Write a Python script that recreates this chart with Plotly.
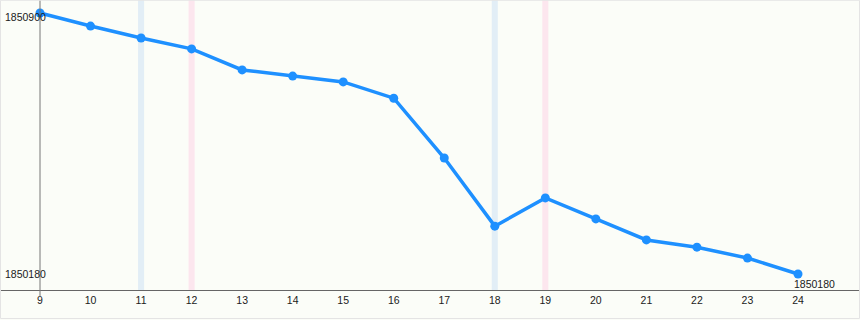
import plotly.graph_objects as go

x_vals = [9, 10, 11, 12, 13, 14, 15, 16, 17, 18, 19, 20, 21, 22, 23, 24]
y_vals = [1850900, 1850864, 1850831, 1850801, 1850743, 1850726, 1850710, 1850665,
          1850500, 1850312, 1850390, 1850332, 1850274, 1850254, 1850224, 1850180]
blue_bands = [11, 18]
pink_bands = [12, 19]
y_max_label = "1850900"
y_min_label = "1850180"

W, H = 860, 320
ML, MR, MT, MB = 0, 0, 0, 30
PH = H - MT - MB

x_range = [8.2084, 25.227]
y_range = [1850135.9, 1850935.9]

FONT = dict(family="Liberation Sans, Arial, sans-serif", size=10.5, color="#1a1a1a")

fig = go.Figure()

shapes = []
for b in blue_bands:
    shapes.append(dict(type="rect", xref="x", yref="paper", x0=b - 0.06, x1=b + 0.06,
                       y0=0, y1=1, fillcolor="#e2eef6", line=dict(width=0), layer="below"))
for b in pink_bands:
    shapes.append(dict(type="rect", xref="x", yref="paper", x0=b - 0.06, x1=b + 0.06,
                       y0=0, y1=1, fillcolor="#fce6ee", line=dict(width=0), layer="below"))
# y axis line
shapes.append(dict(type="line", xref="x", yref="paper", x0=x_vals[0], x1=x_vals[0],
                   y0=-7 / PH, y1=1, line=dict(color="#777777", width=1)))
# outer border
shapes.append(dict(type="rect", xref="paper", yref="paper", x0=0.0006, x1=0.9994,
                   y0=-(MB - 1.5) / PH, y1=0.999, line=dict(color="#e4e4e4", width=1),
                   fillcolor="rgba(0,0,0,0)"))

fig.add_trace(go.Scatter(
    x=x_vals, y=y_vals, mode="lines+markers",
    line=dict(color="#1e90ff", width=3.5),
    marker=dict(color="#1e90ff", size=9),
    hoverinfo="x+y", cliponaxis=False,
))

annotations = [
    dict(x=0, xref="paper", y=y_vals[0], yref="y", text=y_max_label, showarrow=False,
         xanchor="left", yanchor="middle", xshift=3, yshift=-4, font=FONT),
    dict(x=0, xref="paper", y=y_vals[-1], yref="y", text=y_min_label, showarrow=False,
         xanchor="left", yanchor="middle", xshift=3, yshift=0, font=FONT),
    dict(x=x_vals[-1], xref="x", y=y_vals[-1], yref="y", text=y_min_label, showarrow=False,
         xanchor="center", yanchor="middle", xshift=16, yshift=-10, font=FONT),
]

fig.update_layout(
    width=W, height=H,
    margin=dict(l=ML, r=MR, t=MT, b=MB),
    paper_bgcolor="#fbfdf8",
    plot_bgcolor="#fbfdf8",
    showlegend=False,
    shapes=shapes,
    annotations=annotations,
    xaxis=dict(range=x_range, tickvals=x_vals, ticktext=[str(v) for v in x_vals],
               showgrid=False, zeroline=False, showline=True, linecolor="#666666",
               linewidth=1, ticks="", fixedrange=True, tickfont=FONT),
    yaxis=dict(range=y_range, showgrid=False, zeroline=False, showline=False,
               showticklabels=False, ticks="", fixedrange=True),
)

fig.write_html("out.html")
